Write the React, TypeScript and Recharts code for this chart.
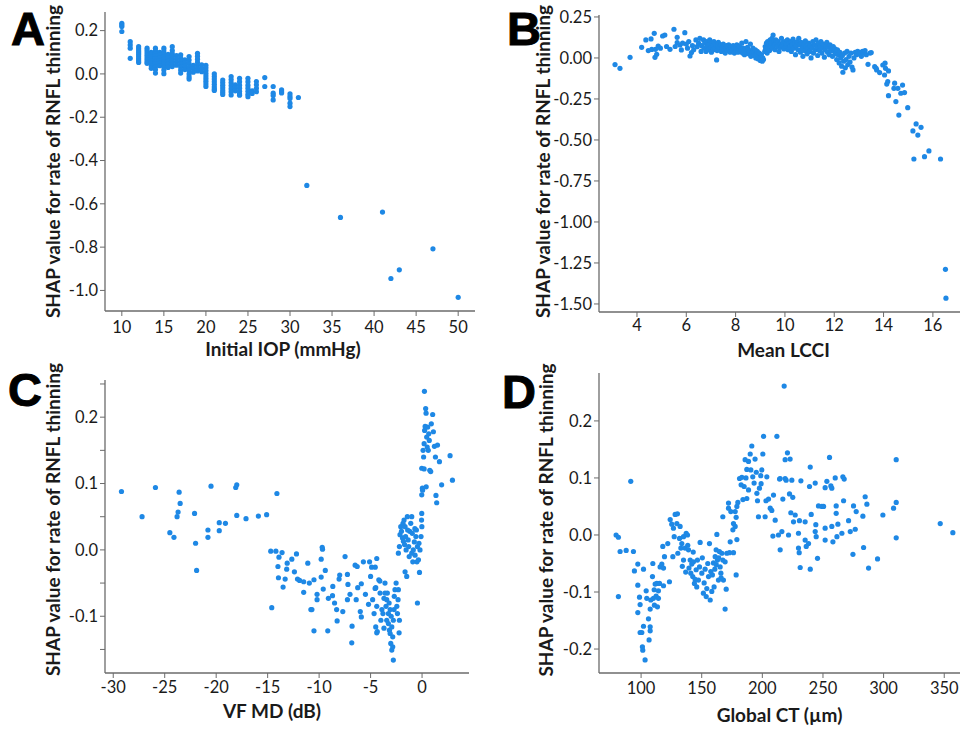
import { ScatterChart, Scatter, XAxis, YAxis } from 'recharts';

const DOT = '#1E88E5';
const AXIS = '#6b6b6b';
const INK = '#1a1a1a';
const FONT = 'Lato, "Open Sans", sans-serif';

// A: SHAP vs initial IOP, one entry per IOP value (mmHg) with its SHAP values
const iopColumns: [number, number[]][] = [
  [10, [0.234, 0.226, 0.219, 0.196]],
  [11, [0.149, 0.134, 0.119, 0.072]],
  [12, [0.126, 0.116, 0.106, 0.097, 0.088, 0.079, 0.07, 0.061, 0.053]],
  [13, [0.119, 0.108, 0.097, 0.086, 0.075, 0.065, 0.056, 0.049]],
  [13.5, [0.1, 0.09, 0.08, 0.07, 0.06, 0.05, 0.038, 0.026]],
  [14, [0.119, 0.106, 0.094, 0.082, 0.07, 0.058, 0.046, 0.034, 0.02, 0.004]],
  [14.5, [0.1, 0.088, 0.075, 0.062, 0.05, 0.038]],
  [15, [0.119, 0.106, 0.093, 0.08, 0.068, 0.056, 0.044, 0.032, 0.018, 0.001]],
  [15.5, [0.09, 0.075, 0.06, 0.045, 0.03]],
  [16, [0.126, 0.108, 0.094, 0.082, 0.07, 0.058, 0.046, 0.034]],
  [16.5, [0.085, 0.07, 0.055, 0.04]],
  [17, [0.088, 0.074, 0.06, 0.046, 0.032, 0.018, 0.004]],
  [17.5, [0.065, 0.05, 0.035, 0.02]],
  [18, [0.08, 0.064, 0.048, 0.032, 0.016, 0.0, -0.014, -0.024]],
  [18.5, [0.04, 0.025, 0.008]],
  [19, [0.095, 0.082, 0.068, 0.054, 0.04, 0.026, 0.014]],
  [19.5, [0.042, 0.026, 0.01]],
  [20, [0.04, 0.028, 0.015, 0.002, -0.01, -0.022, -0.034, -0.046, -0.058]],
  [21, [0.0, -0.012, -0.024, -0.036, -0.048, -0.06, -0.07, -0.076]],
  [22, [-0.028, -0.04, -0.052, -0.064, -0.076, -0.086, -0.095]],
  [23, [-0.012, -0.026, -0.04, -0.054, -0.068, -0.082, -0.097]],
  [23.5, [-0.05, -0.064, -0.078]],
  [24, [-0.02, -0.036, -0.052, -0.066, -0.08, -0.092, -0.098]],
  [25, [-0.02, -0.036, -0.052, -0.066, -0.08, -0.094, -0.105]],
  [25.5, [-0.078, -0.09]],
  [26, [-0.035, -0.05, -0.066, -0.082]],
  [27, [-0.017, -0.058]],
  [28, [-0.058, -0.089, -0.1, -0.12]],
  [29, [-0.074, -0.082, -0.088]],
  [30, [-0.092, -0.104, -0.114, -0.135, -0.151]],
  [31, [-0.109]],
  [32, [-0.515]],
  [36, [-0.663]],
  [41, [-0.638]],
  [42, [-0.945]],
  [43, [-0.905]],
  [47, [-0.808]],
  [50, [-1.032]],
];

// B: SHAP vs mean LCCI
const lcciPoints: [number, number][] = [
  [3.11, -0.04], [3.31, -0.063], [3.72, 0.004], [4.19, 0.065], [4.36, 0.11], [4.46, 0.045], [4.57, 0.116],
  [4.6, 0.052], [4.7, 0.15], [4.73, 0.004], [4.75, 0.053], [4.8, 0.022], [4.86, 0.073], [4.95, 0.06],
  [5.04, 0.134], [5.13, 0.14], [5.2, 0.07], [5.34, 0.053], [5.5, 0.175], [5.55, 0.07], [5.63, 0.126],
  [5.63, 0.093], [5.74, 0.079], [5.8, 0.049], [5.85, 0.09], [5.94, 0.154], [6.0, 0.085], [6.05, 0.06],
  [6.1, 0.1], [6.15, 0.012], [6.21, 0.033], [6.25, 0.075], [6.3, 0.05], [6.39, 0.11], [6.44, 0.069],
  [6.5, 0.09], [6.55, 0.12], [6.6, 0.04], [6.62, 0.075],
  [6.7, 0.11], [6.72, 0.06], [6.75, 0.09], [6.8, 0.04], [6.82, 0.1], [6.85, 0.07], [6.9, 0.05], [6.92, 0.085],
  [6.95, 0.11], [7.0, 0.065], [7.02, 0.035], [7.05, 0.09], [7.08, 0.075], [7.1, 0.05], [7.12, 0.1], [7.15, 0.06],
  [7.2, 0.08], [7.23, -0.012], [7.25, 0.045], [7.28, 0.07], [7.3, 0.095], [7.33, 0.055], [7.36, 0.065],
  [7.4, 0.08], [7.42, 0.04], [7.45, 0.06], [7.5, 0.085], [7.52, 0.05], [7.55, 0.07], [7.58, 0.03], [7.6, 0.06],
  [7.63, 0.075], [7.66, 0.045], [7.7, 0.065], [7.72, 0.08], [7.75, 0.05], [7.78, 0.035], [7.8, 0.07],
  [7.83, 0.06], [7.86, 0.045], [7.9, 0.075], [7.92, 0.055], [7.95, 0.03], [8.0, 0.065], [8.02, 0.045],
  [8.05, 0.08], [8.08, 0.055], [8.1, 0.035], [8.13, 0.06], [8.16, 0.07], [8.2, 0.04], [8.22, 0.05],
  [8.25, 0.09], [8.28, 0.03], [8.3, 0.06], [8.33, 0.045], [8.36, 0.02], [8.4, 0.055], [8.42, 0.1],
  [8.45, 0.035], [8.48, 0.065], [8.5, 0.05], [8.53, 0.025], [8.56, 0.04], [8.6, 0.085], [8.62, 0.01],
  [8.65, 0.045], [8.68, 0.03], [8.7, 0.06], [8.73, 0.015], [8.76, 0.035], [8.8, 0.05], [8.82, 0.0],
  [8.85, 0.025], [8.88, 0.04], [8.9, -0.005], [8.93, 0.015], [8.96, 0.03], [9.0, -0.015], [9.02, 0.005],
  [9.05, 0.02], [9.08, -0.02], [9.1, 0.0], [9.13, -0.01],
  [9.18, 0.04], [9.2, 0.07], [9.22, 0.055], [9.25, 0.09], [9.28, 0.03], [9.3, 0.1], [9.32, 0.065],
  [9.35, 0.08], [9.38, 0.045], [9.4, 0.11], [9.42, 0.075], [9.45, 0.09], [9.48, 0.12], [9.5, 0.06],
  [9.52, 0.14], [9.55, 0.1], [9.58, 0.08], [9.6, 0.05], [9.63, 0.11], [9.66, 0.09], [9.7, 0.07],
  [9.73, 0.1], [9.76, 0.04], [9.8, 0.085], [9.83, 0.065], [9.86, 0.12], [9.9, 0.075], [9.93, 0.095],
  [9.96, 0.055], [10.0, 0.1], [10.03, 0.07], [10.06, 0.085], [10.1, 0.11], [10.13, 0.05], [10.16, 0.09],
  [10.2, 0.065], [10.23, 0.1], [10.26, 0.04], [10.3, 0.08], [10.33, 0.115], [10.36, 0.06], [10.4, 0.09],
  [10.43, 0.02], [10.46, 0.075], [10.5, 0.1], [10.53, 0.05], [10.56, 0.12], [10.6, 0.08], [10.63, 0.035],
  [10.66, 0.095], [10.7, 0.06], [10.73, 0.01], [10.76, 0.085], [10.8, 0.045], [10.83, 0.105], [10.86, 0.07],
  [10.9, 0.025], [10.93, 0.055], [10.96, 0.09], [11.0, 0.04], [11.03, 0.075], [11.06, 0.0], [11.1, 0.06],
  [11.13, 0.1], [11.16, 0.03], [11.2, 0.08], [11.23, 0.05], [11.26, 0.11], [11.3, 0.065], [11.33, 0.015],
  [11.36, 0.09], [11.4, 0.045], [11.43, 0.07], [11.46, 0.1], [11.5, 0.03], [11.53, 0.06], [11.56, 0.085],
  [11.6, 0.005], [11.63, 0.05], [11.66, 0.075], [11.7, 0.095], [11.73, 0.035], [11.76, 0.065], [11.8, 0.02],
  [11.83, 0.08], [11.86, 0.045], [11.9, 0.06], [11.93, 0.01], [11.96, 0.07], [12.0, 0.04], [12.03, 0.055],
  [12.06, 0.025],
  [12.1, -0.01], [12.13, 0.05], [12.16, 0.02], [12.2, -0.03], [12.23, 0.035], [12.26, 0.0], [12.3, -0.05],
  [12.33, 0.015], [12.35, -0.087], [12.38, -0.02], [12.42, 0.03], [12.45, -0.06], [12.48, -0.01],
  [12.52, 0.04], [12.55, -0.04], [12.6, 0.01], [12.64, -0.025], [12.68, 0.03], [12.72, -0.055],
  [12.76, -0.073], [12.8, 0.0], [12.85, 0.035], [12.9, 0.02], [12.95, 0.04], [13.0, 0.025], [13.05, 0.035],
  [13.1, 0.01], [13.15, 0.04], [13.2, 0.03], [13.25, 0.045], [13.3, 0.02], [13.37, -0.039], [13.45, 0.03],
  [13.5, 0.033],
  [13.64, -0.053], [13.7, -0.063], [13.72, -0.073], [13.84, -0.089], [13.97, -0.043], [14.04, -0.104],
  [14.08, -0.063], [14.06, -0.032], [14.13, -0.159], [14.17, -0.144], [14.2, -0.079], [14.2, -0.23],
  [14.45, -0.154], [14.42, -0.185], [14.5, -0.266], [14.58, -0.185], [14.62, -0.348], [14.7, -0.215],
  [14.77, -0.165], [14.85, -0.211], [14.98, -0.303], [15.19, -0.445], [15.32, -0.402], [15.23, -0.616],
  [15.39, -0.47], [15.52, -0.423], [15.66, -0.602], [15.84, -0.567], [16.31, -0.616], [16.51, -1.289],
  [16.53, -1.465],
];

// C: SHAP vs VF MD (dB)
const vfmdPoints: [number, number][] = [
  [-29.2, 0.088], [-27.2, 0.05], [-25.9, 0.094], [-24.5, 0.026], [-24.1, 0.019], [-23.8, 0.05], [-23.7, 0.057],
  [-23.6, 0.087], [-23.5, 0.07], [-22.1, 0.055], [-22.0, 0.01], [-21.9, -0.031], [-20.8, 0.03], [-20.8, 0.019],
  [-20.5, 0.096], [-19.7, 0.041], [-19.7, 0.029], [-19.1, 0.04], [-18.1, 0.094], [-18.0, 0.098], [-18.0, 0.052],
  [-17.1, 0.047], [-15.9, 0.051], [-15.1, 0.053], [-14.1, 0.085],
  [-14.7, -0.002], [-14.6, -0.087], [-14.2, -0.002], [-13.6, -0.004], [-13.9, -0.011], [-14.0, -0.025],
  [-13.95, -0.042], [-13.5, -0.056], [-13.3, -0.044], [-13.1, -0.02], [-13.15, -0.029], [-12.65, -0.014],
  [-12.4, -0.033], [-12.2, -0.006], [-12.1, -0.044], [-11.9, -0.046], [-11.5, -0.064], [-11.5, -0.048],
  [-11.1, -0.02], [-10.95, -0.05], [-10.8, -0.09], [-10.7, -0.09], [-10.5, -0.122], [-10.5, -0.045],
  [-10.2, -0.075], [-10.2, -0.067], [-9.8, -0.041], [-9.8, -0.014], [-9.7, 0.004], [-9.67, 0.001],
  [-9.4, -0.031], [-9.6, -0.059], [-9.16, -0.122], [-9.1, -0.073], [-8.67, -0.055], [-8.7, -0.069],
  [-8.5, -0.08], [-8.3, -0.09], [-8.25, -0.107], [-8.06, -0.044], [-8.0, -0.038], [-7.7, -0.093],
  [-7.48, -0.01], [-7.25, -0.037], [-7.25, -0.075], [-7.2, -0.052], [-7.0, -0.067], [-6.83, -0.14],
  [-6.8, -0.115], [-6.5, -0.023], [-6.4, -0.075], [-6.3, -0.025], [-6.25, -0.057], [-6.0, -0.093],
  [-5.9, -0.051], [-5.9, -0.101], [-5.7, -0.018], [-5.5, -0.067], [-5.2, -0.082], [-5.1, -0.018],
  [-5.0, -0.04], [-4.9, -0.026], [-4.55, -0.026], [-4.5, -0.057], [-4.4, -0.013], [-4.4, -0.125],
  [-4.1, -0.047], [-4.08, -0.065], [-3.9, -0.09], [-3.8, -0.096], [-3.7, -0.073], [-3.6, -0.05],
  [-3.6, -0.065], [-3.5, -0.085], [-3.43, -0.075], [-3.43, -0.106], [-3.37, -0.065], [-3.27, -0.096],
  [-3.27, -0.111], [-3.2, -0.08], [-3.17, -0.121], [-3.1, -0.126], [-3.1, -0.09], [-3.04, -0.141],
  [-3.0, -0.1], [-2.94, -0.151], [-2.94, -0.116], [-2.85, -0.146], [-2.85, -0.131], [-2.79, -0.166],
  [-2.79, -0.106], [-2.72, -0.09], [-2.7, -0.07], [-2.63, -0.06], [-2.52, -0.05], [-2.45, -0.085],
  [-2.39, -0.096], [-2.3, -0.06], [-2.2, -0.106], [-2.23, -0.125], [-2.33, -0.075], [-4.4, -0.085],
  [-4.2, -0.045], [-4.56, -0.058], [-4.66, -0.096], [-4.8, -0.075], [-4.5, -0.116], [-4.35, -0.123],
  [-4.0, -0.106], [-3.7, -0.118],
  [-2.3, -0.005], [-2.2, 0.005], [-2.14, 0.023], [-2.07, 0.035], [-2.0, 0.028], [-1.9, 0.018],
  [-1.81, 0.013], [-1.75, 0.045], [-1.65, 0.035], [-1.65, -0.033], [-1.55, 0.0], [-1.49, -0.04],
  [-1.43, 0.05], [-1.35, 0.015], [-1.3, 0.005], [-1.2, 0.028], [-1.1, 0.04], [-1.0, 0.05], [-1.0, -0.005],
  [-0.9, -0.018], [-0.85, 0.0], [-0.75, 0.012], [-0.68, -0.008], [-0.6, 0.02], [-0.55, 0.03],
  [-0.5, -0.018], [-0.45, 0.005], [-0.35, -0.015], [-0.25, -0.034], [-0.2, 0.0], [-0.1, 0.02],
  [-0.03, 0.055], [-0.05, 0.045], [-0.02, 0.035], [-0.45, -0.08], [-1.85, 0.04], [-1.6, 0.02],
  [-1.7, 0.008], [-1.4, 0.03], [-0.95, 0.025], [-0.7, 0.032], [-1.25, -0.01], [-0.3, 0.01],
  [-0.03, 0.083], [0.03, 0.093], [-0.03, 0.123], [0.05, 0.09], [0.1, 0.15], [0.15, 0.14], [0.2, 0.16],
  [0.25, 0.18], [0.23, 0.239], [0.3, 0.186], [0.35, 0.213], [0.39, 0.206], [0.45, 0.17], [0.5, 0.155],
  [0.55, 0.185], [0.6, 0.15], [0.65, 0.175], [0.7, 0.165], [0.84, 0.118], [0.9, 0.19], [1.03, 0.204],
  [1.1, 0.178], [1.2, 0.156], [1.3, 0.14], [1.42, 0.071], [1.35, 0.082], [1.5, 0.158], [1.69, 0.133],
  [1.9, 0.098], [2.72, 0.142], [2.95, 0.105], [0.2, 0.122], [0.4, 0.095], [0.75, 0.12],
];

// D: SHAP vs global choroidal thickness (µm)
const ctPoints: [number, number][] = [
  [79.4, 0.0], [81.3, -0.004], [82.7, -0.029], [87.7, -0.027], [81.3, -0.108], [91.5, 0.094],
  [93.7, -0.029], [94.5, -0.063], [97.3, -0.051], [97.3, -0.088], [97.3, -0.136], [98.7, -0.109],
  [99.2, -0.122], [99.2, -0.171], [100.6, -0.171], [101.1, -0.196], [101.4, -0.202], [102.0, -0.06],
  [102.0, -0.16], [103.3, -0.219], [104.2, -0.098], [104.7, -0.111], [106.1, -0.147], [106.6, -0.184],
  [107.5, -0.161], [107.5, -0.13], [107.5, -0.168], [108.0, -0.114], [109.7, -0.05], [109.4, -0.073],
  [110.2, -0.111], [110.8, -0.096], [111.0, -0.123], [111.6, -0.086], [112.4, -0.107], [113.0, -0.085],
  [113.5, -0.126], [114.3, -0.111], [114.3, -0.098], [115.2, -0.085], [115.7, -0.056], [117.1, -0.051],
  [117.9, -0.02], [118.5, -0.058], [119.3, -0.038], [118.5, -0.089], [122.0, -0.015], [123.4, -0.082],
  [124.0, 0.027], [125.3, 0.019], [126.2, -0.038], [126.7, 0.012], [127.3, -0.003], [128.1, 0.036],
  [129.5, 0.02], [130.3, -0.032], [131.7, -0.006], [132.2, 0.015], [132.8, -0.023], [135.0, -0.044],
  [130.0, 0.037], [133.6, -0.015], [135.0, -0.003], [136.3, -0.023], [137.2, 0.003], [138.3, 0.0],
  [138.5, -0.018], [139.1, -0.026], [140.5, -0.044], [141.0, -0.067], [141.8, -0.051], [142.6, -0.073],
  [143.2, -0.047], [144.0, -0.085], [144.6, -0.078], [145.4, -0.061], [145.9, -0.091], [146.5, -0.044],
  [147.3, -0.079], [148.2, -0.056], [148.7, -0.013], [150.1, -0.067], [151.4, -0.102], [152.0, -0.084],
  [153.7, -0.108], [154.2, -0.094], [155.6, -0.073], [156.4, -0.015], [157.0, -0.114], [157.5, -0.064],
  [158.3, -0.099], [159.7, -0.049], [160.2, -0.091], [161.1, -0.038], [161.9, -0.026], [162.5, 0.001],
  [163.0, -0.044], [163.8, -0.079], [164.6, -0.029], [165.2, -0.056], [165.8, -0.067], [166.6, -0.032],
  [167.4, -0.044], [167.9, -0.079], [169.3, -0.047], [169.3, -0.13], [170.2, -0.095], [170.7, -0.032],
  [172.9, -0.031], [173.5, -0.012], [176.2, -0.031], [178.4, -0.07], [179.0, -0.008], [177.6, 0.015],
  [134.0, -0.055], [136.8, -0.065], [139.5, -0.058], [143.0, -0.03], [150.5, -0.04], [152.8, -0.06],
  [155.0, -0.05], [158.8, -0.07], [160.8, -0.06], [162.0, -0.052], [164.0, -0.04], [166.0, -0.075],
  [167.4, 0.032], [172.1, 0.047], [174.0, 0.041], [175.7, 0.009], [176.2, 0.02], [177.6, 0.041],
  [179.0, 0.05], [179.8, 0.057], [178.4, 0.031], [172.1, 0.056], [181.2, 0.099], [183.1, 0.101],
  [185.0, 0.085], [185.8, 0.132], [187.2, 0.115], [188.6, 0.129], [190.0, 0.142], [191.3, 0.156],
  [190.5, 0.114], [188.6, 0.079], [187.2, 0.064], [192.1, 0.102], [193.2, 0.091], [194.0, 0.133],
  [195.5, 0.073], [196.8, 0.032], [197.6, 0.082], [198.7, 0.104], [199.6, 0.114], [201.0, 0.173],
  [200.4, 0.142], [202.3, 0.032], [203.7, 0.102], [205.1, 0.063], [206.5, 0.047], [207.8, 0.043],
  [208.7, -0.002], [209.2, 0.07], [210.6, 0.026], [212.0, 0.173], [213.3, 0.0], [214.2, 0.098],
  [214.7, -0.026], [216.1, 0.006], [216.9, 0.063], [218.0, 0.261], [218.8, 0.132], [219.6, 0.096],
  [220.7, 0.144], [221.6, 0.0], [222.4, 0.072], [222.9, 0.133], [223.5, 0.039], [224.3, 0.096],
  [225.1, 0.066], [225.7, 0.023], [214.7, 0.099], [218.8, 0.099], [196.0, 0.06], [199.0, 0.09],
  [203.0, 0.06], [184.0, 0.062], [182.5, 0.088], [195.0, 0.11], [186.5, 0.1],
  [227.1, 0.035], [229.8, 0.003], [231.8, 0.095], [230.6, 0.025], [229.8, -0.023], [230.4, -0.031],
  [231.2, -0.057], [235.3, 0.023], [235.3, -0.009], [236.2, -0.02], [238.1, -0.015], [238.9, 0.085],
  [239.5, 0.119], [240.3, 0.036], [239.5, -0.06], [243.6, 0.091], [243.6, 0.006], [244.1, 0.018],
  [244.4, -0.003], [245.5, -0.041], [246.3, 0.051], [249.1, 0.05], [250.5, 0.05], [251.8, 0.012],
  [251.8, -0.009], [251.8, 0.083], [253.2, 0.094], [255.4, 0.136], [256.5, 0.086], [257.3, 0.082],
  [257.3, 0.015], [258.2, -0.012], [260.1, 0.1], [260.9, 0.051], [260.9, 0.038], [261.5, -0.003],
  [262.3, 0.019], [265.6, 0.003], [266.4, 0.102], [267.5, 0.098], [267.0, 0.06], [271.1, 0.025],
  [272.5, 0.006], [274.7, -0.034], [275.2, 0.051], [276.6, 0.01], [277.4, 0.041], [282.9, 0.033],
  [283.5, -0.022], [284.8, 0.067], [286.2, 0.054], [287.6, -0.058], [295.0, -0.042], [299.4, 0.035],
  [308.2, 0.047], [310.4, 0.132], [310.4, 0.057], [310.4, -0.005], [346.7, 0.02], [357.1, 0.004],
];

const iopTicks = [10, 15, 20, 25, 30, 35, 40, 45, 50];
const iopShapTicks = [-1.0, -0.8, -0.6, -0.4, -0.2, 0.0, 0.2];
const lcciTicks = [4, 6, 8, 10, 12, 14, 16];
const lcciShapTicks = [-1.5, -1.25, -1.0, -0.75, -0.5, -0.25, 0.0, 0.25];
const vfmdTicks = [-30, -25, -20, -15, -10, -5, 0];
const vfmdShapTicks = [-0.15, -0.1, -0.05, 0.0, 0.05, 0.1, 0.15, 0.2, 0.25];
const ctTicks = [100, 150, 200, 250, 300, 350];
const ctShapTicks = [-0.2, -0.1, 0.0, 0.1, 0.2];

const Y_LABEL = 'SHAP value for rate of RNFL thinning';

const toPts = (arr: [number, number][]) => arr.map(([x, y]) => ({ x, y }));
const iopData = iopColumns.flatMap(([x, ys]) => ys.map((y) => ({ x, y })));

const fmt1 = (v: number) => v.toFixed(1);
const fmt2 = (v: number) => v.toFixed(2);
const fmtTenths = (v: number) => (Math.abs(v * 10 - Math.round(v * 10)) < 1e-6 ? v.toFixed(1) : '');

const Dot = (props: any) => <circle cx={props.cx} cy={props.cy} r={2.6} fill={DOT} />;

type PanelProps = {
  letter: string;
  letterPos: { left: number; top: number };
  left: number;
  top: number;
  width: number;
  height: number;
  plot: { top: number; right: number; left: number; bottom: number };
  data: { x: number; y: number }[];
  xDomain: [number, number];
  yDomain: [number, number];
  xTicks: number[];
  yTicks: number[];
  yFormat: (v: number) => string;
  xLabel: string;
  xLabelDx: number;
  xLabelOffset: number;
  yLabelOffset: number;
  yLabelDy: number;
  xTickMargin: number;
};

const Panel = (p: PanelProps) => (
  <div style={{ position: 'absolute', left: p.left, top: p.top, width: p.width, height: p.height }}>
    <ScatterChart
      width={p.width}
      height={p.height}
      margin={{ top: p.plot.top, right: p.plot.right, bottom: 0, left: 0 }}
    >
      <XAxis
        type="number"
        dataKey="x"
        domain={p.xDomain}
        ticks={p.xTicks}
        interval={0}
        allowDataOverflow
        height={p.plot.bottom}
        tickSize={5}
        tickMargin={p.xTickMargin}
        axisLine={{ stroke: AXIS, strokeWidth: 1.3 }}
        tickLine={{ stroke: AXIS }}
        tick={{ fill: INK, fontSize: 16.5, fontFamily: FONT }}
        label={{
          value: p.xLabel,
          position: 'insideBottom',
          offset: p.xLabelOffset,
          dx: p.xLabelDx,
          fill: INK,
          fontSize: 19,
          fontWeight: 700,
          fontFamily: FONT,
        }}
      />
      <YAxis
        type="number"
        dataKey="y"
        domain={p.yDomain}
        ticks={p.yTicks}
        interval={0}
        allowDataOverflow
        width={p.plot.left}
        tickSize={5}
        tickMargin={2}
        tickFormatter={p.yFormat}
        axisLine={{ stroke: AXIS, strokeWidth: 1.3 }}
        tickLine={{ stroke: AXIS }}
        tick={{ fill: INK, fontSize: 16.5, fontFamily: FONT }}
        label={{
          value: Y_LABEL,
          angle: -90,
          position: 'insideLeft',
          offset: p.yLabelOffset,
          dy: p.yLabelDy,
          style: { textAnchor: 'middle' },
          fill: INK,
          fontSize: 19,
          fontWeight: 700,
          fontFamily: FONT,
        }}
      />
      <Scatter data={p.data} fill={DOT} shape={Dot} isAnimationActive={false} />
    </ScatterChart>
    <div
      style={{
        position: 'absolute',
        left: p.letterPos.left,
        top: p.letterPos.top,
        fontFamily: '"Liberation Sans", Arial, sans-serif',
        fontWeight: 700,
        fontSize: 47,
        lineHeight: 1,
        color: '#000',
        WebkitTextStroke: '1px #000',
      }}
    >
      {p.letter}
    </div>
  </div>
);

export default function App() {
  return (
    <div style={{ position: 'absolute', left: 0, top: 0, width: 960, height: 730, background: '#fff' }}>
      <Panel
        letter="A"
        letterPos={{ left: 11, top: 5 }}
        left={0}
        top={0}
        width={480}
        height={360}
        plot={{ top: 12, right: 5, left: 105, bottom: 49 }}
        data={iopData}
        xDomain={[8, 52]}
        yDomain={[-1.095, 0.286]}
        xTicks={iopTicks}
        yTicks={iopShapTicks}
        yFormat={fmt1}
        xLabel="Initial IOP (mmHg)"
        xLabelDx={-7}
        xLabelOffset={4}
        yLabelOffset={53}
        yLabelDy={0}
        xTickMargin={5}
      />
      <Panel
        letter="B"
        letterPos={{ left: 27, top: 5 }}
        left={480}
        top={0}
        width={480}
        height={360}
        plot={{ top: 15, right: 0, left: 119, bottom: 48 }}
        data={toPts(lcciPoints)}
        xDomain={[2.46, 17.1]}
        yDomain={[-1.549, 0.262]}
        xTicks={lcciTicks}
        yTicks={lcciShapTicks}
        yFormat={fmt2}
        xLabel="Mean LCCI"
        xLabelDx={4}
        xLabelOffset={3}
        yLabelOffset={63}
        yLabelDy={-2}
        xTickMargin={2}
      />
      <Panel
        letter="C"
        letterPos={{ left: 8, top: 6 }}
        left={0}
        top={360}
        width={480}
        height={370}
        plot={{ top: 20, right: 11, left: 105, bottom: 57 }}
        data={toPts(vfmdPoints)}
        xDomain={[-30.8, 4.56]}
        yDomain={[-0.1855, 0.256]}
        xTicks={vfmdTicks}
        yTicks={vfmdShapTicks}
        yFormat={fmtTenths}
        xLabel="VF MD (dB)"
        xLabelDx={-15}
        xLabelOffset={12}
        yLabelOffset={53}
        yLabelDy={-7}
        xTickMargin={3}
      />
      <Panel
        letter="D"
        letterPos={{ left: 22, top: 8 }}
        left={480}
        top={360}
        width={480}
        height={370}
        plot={{ top: 13, right: 0, left: 119, bottom: 57 }}
        data={toPts(ctPoints)}
        xDomain={[65.3, 363]}
        yDomain={[-0.242, 0.284]}
        xTicks={ctTicks}
        yTicks={ctShapTicks}
        yFormat={fmt1}
        xLabel="Global CT (µm)"
        xLabelDx={0}
        xLabelOffset={8}
        yLabelOffset={66}
        yLabelDy={-3}
        xTickMargin={4}
      />
    </div>
  );
}
